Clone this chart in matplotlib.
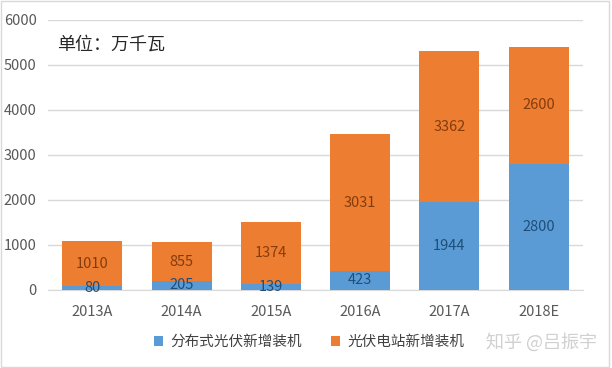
import numpy as np
import matplotlib.pyplot as plt

plt.rcParams['font.family'] = ['Noto Sans CJK SC', 'DejaVu Sans']

years = ['2013A', '2014A', '2015A', '2016A', '2017A', '2018E']
fenbushi = [80, 205, 139, 423, 1944, 2800]     # 分布式光伏新增装机
dianzhan = [1010, 855, 1374, 3031, 3362, 2600]  # 光伏电站新增装机

blue = '#5B9BD5'
orange = '#ED7D31'

fig = plt.figure(figsize=(6.12, 3.68), dpi=100)
ax = fig.add_axes([0.078, 0.212, 0.875, 0.734])

x = np.arange(len(years))
b1 = ax.bar(x, fenbushi, width=0.67, color=blue, zorder=3)
b2 = ax.bar(x, dianzhan, width=0.67, bottom=fenbushi, color=orange, zorder=3)

ax.bar_label(b1, labels=[str(v) for v in fenbushi], label_type='center',
             color='#1F4E79', fontsize=10.5, zorder=4)
ax.bar_label(b2, labels=[str(v) for v in dianzhan], label_type='center',
             color='#843C0C', fontsize=10.5, zorder=4)

ax.set_ylim(0, 6000)
ax.set_xlim(-0.5, len(years) - 0.5)
ax.set_yticks(range(0, 6001, 1000))
ax.set_xticks(x)
ax.set_xticklabels(years)
ax.tick_params(axis='both', length=0, colors='#595959', labelsize=10.5)
ax.tick_params(axis='x', pad=11)
ax.tick_params(axis='y', pad=8)
ax.grid(axis='y', color='#D9D9D9', linewidth=1, zorder=0)
for s in ['top', 'right', 'left']:
    ax.spines[s].set_visible(False)
ax.spines['bottom'].set_color('#D9D9D9')

ax.text(-0.4, 5440, '单位：万千瓦', fontsize=13, color='#262626', va='center')

fig.legend([b1, b2], ['分布式光伏新增装机', '光伏电站新增装机'],
           loc='center', bbox_to_anchor=(0.505, 0.07), ncol=2, frameon=False,
           fontsize=10.5, handlelength=0.6, handleheight=0.6, handletextpad=0.5,
           columnspacing=2.0, labelcolor='#404040')

fig.text(0.975, 0.07, '知乎 @吕振宇', fontsize=13, color='#D0D0D0',
         ha='right', va='center')

fig.patches.append(plt.Rectangle((0.002, 0.003), 0.993, 0.994, transform=fig.transFigure,
                                 fill=False, edgecolor='#D9D9D9', linewidth=1))

fig.savefig('out.png', dpi=100)
